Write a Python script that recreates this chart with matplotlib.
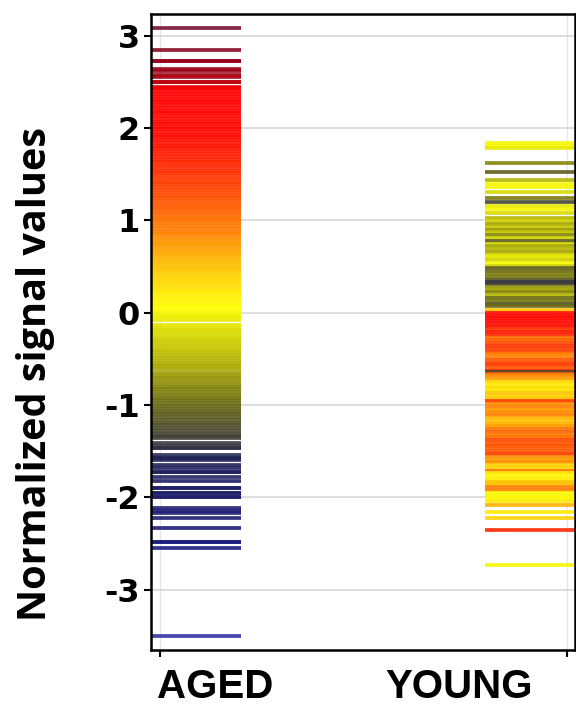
import matplotlib
matplotlib.use("Agg")
import matplotlib.pyplot as plt
from matplotlib.colors import LinearSegmentedColormap, Normalize
import numpy as np

# normalized signal per probe, AGED group (colour = this value)
aged_top = [3.09, 2.85, 2.73, 2.73, 2.64, 2.62, 2.58, 2.55, 2.50, 2.50]
aged_core = [
    2.45, 2.43, 2.40, 2.37, 2.34, 2.31, 2.28, 2.25, 2.22, 2.19, 2.16, 2.13,
    2.10, 2.07, 2.04, 2.01, 1.99, 1.96, 1.93, 1.90, 1.87, 1.84, 1.81, 1.78,
    1.75, 1.72, 1.69, 1.66, 1.63, 1.60, 1.57, 1.54, 1.51, 1.48, 1.45, 1.42,
    1.39, 1.36, 1.33, 1.30, 1.27, 1.24, 1.21, 1.18, 1.15, 1.12, 1.09, 1.06,
    1.03, 1.00, 0.97, 0.94, 0.91, 0.88, 0.85, 0.82, 0.79, 0.76, 0.73, 0.70,
    0.67, 0.64, 0.61, 0.58, 0.55, 0.52, 0.49, 0.46, 0.43, 0.40, 0.37, 0.34,
    0.31, 0.28, 0.25, 0.22, 0.19, 0.16, 0.13, 0.10, 0.07, 0.04, 0.01, -0.02,
    -0.05, -0.08, -0.13, -0.16, -0.19, -0.22, -0.25, -0.28, -0.31, -0.34,
    -0.37, -0.40, -0.43, -0.46, -0.49, -0.52, -0.55, -0.58, -0.61, -0.65,
    -0.68, -0.71, -0.74, -0.77, -0.80, -0.83, -0.86, -0.89, -0.92, -0.95,
    -0.98, -1.01, -1.04, -1.07, -1.10, -1.13, -1.16, -1.19, -1.22, -1.25,
    -1.28, -1.31, -1.34, -1.36,
]
aged_bottom = [
    -1.41, -1.44, -1.47, -1.47, -1.54, -1.57, -1.57, -1.60, -1.65, -1.68,
    -1.73, -1.73, -1.78, -1.82, -1.90, -1.90, -1.95, -1.95, -2.00, -2.00,
    -2.12, -2.15, -2.17, -2.22, -2.33, -2.48, -2.48, -2.55, -3.50,
]

# YOUNG group: signal per probe, and the AGED signal of the same probe (sets colour)
young_values = [
    1.84, 1.81, 1.78, 1.62, 1.53, 1.44, 1.40, 1.36, 1.31, 1.24, 1.20, 1.16,
    1.12, 1.08, 1.03, 0.99, 0.96, 0.93, 0.90, 0.87, 0.84, 0.81, 0.78, 0.75,
    0.72, 0.69, 0.66, 0.63, 0.60, 0.57, 0.54, 0.51, 0.48, 0.45, 0.42, 0.39,
    0.36, 0.33, 0.31, 0.28, 0.25, 0.22, 0.19, 0.16, 0.13, 0.10, 0.07, 0.03,
    0.00, -0.03, -0.06, -0.09, -0.12, -0.15, -0.18, -0.21, -0.24, -0.27,
    -0.30, -0.33, -0.36, -0.39, -0.42, -0.45, -0.48, -0.51, -0.54, -0.57,
    -0.60, -0.63, -0.64, -0.66, -0.69, -0.72, -0.75, -0.78, -0.81, -0.84,
    -0.87, -0.90, -0.93, -0.96, -0.99, -1.02, -1.05, -1.08, -1.11, -1.14,
    -1.17, -1.20, -1.23, -1.26, -1.29, -1.32, -1.35, -1.38, -1.41, -1.44,
    -1.47, -1.50, -1.53, -1.56, -1.59, -1.62, -1.65, -1.68, -1.71, -1.74,
    -1.77, -1.80, -1.83, -1.86, -1.89, -1.92, -1.95, -1.98, -2.01, -2.04,
    -2.08, -2.16, -2.22, -2.35, -2.73,
]
young_aged = [
    0.0, 0.0, -0.1, -0.8, -1.1, -0.5, 0.0, 0.0, -0.2, -0.9, -1.3, -0.1,
    0.0, -0.2, -0.5, -0.3, -0.6, -0.4, -0.7, -0.4, -0.8, -0.3, -1.1, -0.2,
    -0.6, -0.5, -0.6, -0.2, -0.1, -0.3, 0.0, -0.3, -1.1, -1.0, -0.9, -0.9,
    -1.2, -1.45, -1.4, -0.7, -0.6, -0.8, -0.5, -1.0, -0.9, -1.2, -1.0, 0.5,
    2.0, 2.1, 2.0, 2.2, 1.9, 2.0, 1.4, 1.8, 1.6, 1.0,
    1.1, 1.3, 1.5, 1.4, 1.3, 0.9, 0.9, 1.2, 1.3, 1.4,
    1.2, 1.6, -1.3, 1.0, 0.8, 0.7, 0.3, 0.2, 0.3, 0.2,
    0.5, 0.4, 0.5, 1.4, 0.8, 0.9, 0.7, 0.8, 0.9, 0.6,
    0.5, 0.6, 0.7, 1.0, 1.1, 0.9, 1.0, 1.3, 1.2, 1.3,
    1.1, 1.2, 1.4, 0.8, 0.7, 0.8, 0.4, 0.4, 1.0, 0.2,
    0.1, 0.2, 0.5, 0.5, 0.9, 0.9, 0.1, 0.0, 0.1, 0.2,
    0.6, 0.2, 0.4, 1.6, 0.0,
]
assert len(young_values) == len(young_aged)

groups = ["AGED", "YOUNG"]
yticks = [-3, -2, -1, 0, 1, 2, 3]

aged_values = aged_top + aged_core + aged_bottom

cmap = LinearSegmentedColormap.from_list("heat", [
    (0.00, "#3434a8"),
    (0.17, "#1c1c80"),
    (0.30, "#22225a"),
    (0.33, "#3e3e3a"),
    (0.39, "#6a6a12"),
    (0.46, "#b4b400"),
    (0.52, "#e6e600"),
    (0.545, "#ffff00"),
    (0.61, "#ffc400"),
    (0.67, "#ff8000"),
    (0.74, "#ff4000"),
    (0.82, "#ff0a00"),
    (0.90, "#ff0000"),
    (0.92, "#a00012"),
    (1.00, "#7a1030"),
])
norm = Normalize(vmin=-3.6, vmax=3.1)

fig = plt.figure(figsize=(5.76, 7.08), dpi=100)
ax = fig.add_axes([0.262, 0.082, 0.736, 0.898])

ax.set_axisbelow(True)
ax.grid(axis="y", color="#d4d4d4", lw=1.1)
for xv in (0, 1):
    ax.axvline(xv, color="#e6e6ee", lw=0.9, zorder=0)

ax.hlines(aged_values, -0.02, 0.20, colors=cmap(norm(np.array(aged_values))),
          lw=2.7, alpha=0.9)
ax.hlines(young_values, 0.80, 1.03, colors=cmap(norm(np.array(young_aged))),
          lw=2.7, alpha=0.9)

ax.set_xlim(-0.022, 1.02)
ax.set_ylim(-3.653, 3.235)

ax.set_yticks(yticks)
ax.set_yticklabels([str(v) for v in yticks], fontfamily="DejaVu Sans",
                   fontweight="bold", fontsize=23)
ax.tick_params(axis="y", length=5, width=1.5, pad=3)

ax.set_xticks([0, 1])
ax.set_xticklabels(["", ""])
ax.tick_params(axis="x", which="major", length=5, width=1.5)
ax.set_xticks([0.135, 0.735], minor=True)
ax.set_xticklabels(groups, minor=True, fontfamily="Liberation Sans",
                   fontweight="bold", fontsize=29)
ax.tick_params(axis="x", which="minor", length=0, pad=13)

for s in ax.spines.values():
    s.set_linewidth(1.8)

fig.text(0.062, 0.472, "Normalized signal values", rotation=90, ha="center",
         va="center", fontfamily="Open Sans", fontweight="bold", fontsize=28.5)

fig.savefig("out.png", dpi=100)
